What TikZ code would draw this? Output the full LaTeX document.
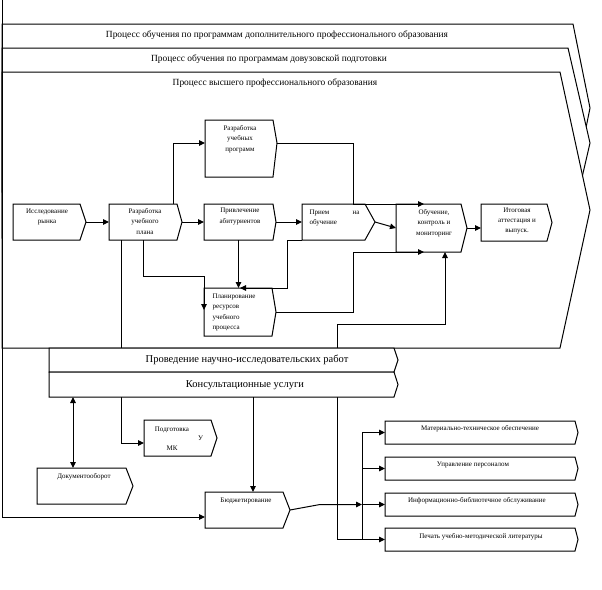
\documentclass[tikz,border=0pt]{standalone}
\usepackage{fontspec}
\setmainfont{Liberation Serif}
\usetikzlibrary{arrows.meta,calc,fit}
\newcommand\procbox[7]{%
  \draw[box] (#2,#3) -- (#4,#3) -- (#6,#7) -- (#4,#5) -- (#2,#5) -- cycle;
  \coordinate (#1-nw) at (#2,#3);
  \coordinate (#1-se) at (#4,#5);
  \coordinate (#1-tip) at (#6,#7);
  \node[fit=(#1-nw)(#1-se), anchorbox] (#1) {};
}
\begin{document}
\begin{tikzpicture}[x=1pt,y=-1pt,
  line width=1pt,
  arr/.style={-{Triangle[length=6pt,width=5.5pt]}},
  arrb/.style={{Triangle[length=6pt,width=5.5pt]}-{Triangle[length=6pt,width=5.5pt]}},
  box/.style={draw,fill=white},
  anchorbox/.style={inner sep=0pt, outer sep=0pt, draw=none},
  small/.style={font=\fontsize{7}{10.3}\selectfont, align=center, inner sep=0pt},
  big/.style={font=\fontsize{9.4}{11}\selectfont, inner sep=0pt},
  barf/.style={font=\fontsize{10.5}{12}\selectfont, inner sep=0pt}]
\useasboundingbox (0,0) rectangle (602,589);
% large process frames
\procbox{pA}{2}{24}{573}{192}{590}{108}
\procbox{pB}{2}{48}{568}{238}{590}{143}
\procbox{pC}{2}{72}{560}{348}{590}{210}
% inner processes
\procbox{rynok}{13}{204}{80}{240}{86}{222}
\procbox{rup}{109}{204}{177}{240}{182}{222}
\procbox{rprog}{205}{120}{273}{177}{277}{143}
\procbox{privl}{204}{204}{273}{240}{276}{222}
\procbox{priem}{302}{204}{365}{240}{375}{222}
\procbox{obuch}{396}{204}{461}{252}{467}{228}
\procbox{itog}{481}{204}{547}{241}{552}{222.5}
\procbox{plan}{204}{288}{272}{336}{276}{312}
% support processes
\procbox{mto}{385}{421}{575}{444}{578}{432.5}
\procbox{pers}{385}{457}{575}{480}{578}{468.5}
\procbox{info}{385}{493}{575}{516}{578}{504.5}
\procbox{print}{385}{528}{575}{551}{578}{539.5}
\coordinate (j1) at (353,204);
\coordinate (j2) at (204,276);
\coordinate (j3) at (353,252);
\coordinate (j4) at (337,324);
\coordinate (top) at (2,0);
\coordinate (bend) at (320,504.5);
\coordinate (tr1) at (362,432.5);
\coordinate (tr4) at (362,539.5);
% connectors
\draw[arr] (rynok-tip) -- (rup.west);
\draw[arr] (rup-tip) -- (privl.west);
\draw[arr] (privl-tip) -- (priem.west);
\draw[arr] (priem-tip) -- (obuch.west);
\draw[arr] (obuch-tip) -- (obuch-tip -| itog.west);
\draw[arr] ([xshift=30pt]rup.north) |- (rprog-tip -| rprog.west);
\draw[arr] (rprog-tip) -| (j1) -- ([xshift=28pt]obuch.north west);
\draw[arr] (privl.south) -- (privl.south |- plan.north);
\draw[arr] (priem.south west) -- ++(-15,0) |- ([xshift=36pt]plan.north west);
\draw[arr] (rup.south) |- (j2) -- ([yshift=-22pt]plan.north west);
\draw[arr] (plan-tip) -| (j3) -- ([xshift=28pt]obuch.south west);
\draw (tr1) -- (tr4);
\foreach \b in {mto,pers,info,print} \draw[arr] (\b.west -| tr1) -- (\b.west);
\draw[arr] (tr4) -| (j4) -| ([xshift=49pt]obuch.south west);
\procbox{umk}{144}{420}{211}{456}{217}{438}
\draw[arr] ([xshift=-22pt]rup.south) |- ([yshift=-5pt]umk.west);
% bars
\procbox{nir}{49}{348}{394}{372}{398}{360}
\procbox{ku}{49}{372}{394}{397}{398}{384.5}
\procbox{docs}{37}{468}{126}{504}{133}{486}
\procbox{budget}{205}{492}{283}{528}{290}{510}
\draw[arr] (top) |- ([yshift=-7pt]budget.west);
\draw[arr] ([xshift=9pt]budget.north |- ku.south) -- ([xshift=9pt]budget.north);
\draw[arrb] ([xshift=-8.5pt]docs.north |- ku.south) -- ([xshift=-8.5pt]docs.north);
\draw[arr] (budget-tip) -- (bend) -- (bend -| tr1);
% texts
\node[big] (tA) at (277,35) {Процесс обучения по программам дополнительного профессионального образования};
\node[big] (tB) at (269,59) {Процесс обучения по программам довузовской подготовки};
\node[big] (tC) at (275,83) {Процесс высшего профессионального образования};
\node[barf] (tN) at (247,360) {Проведение научно-исследовательских работ};
\node[barf] (tK) at (245,385) {Консультационные услуги};
\node[small] (t1) at (47,217) {Исследование\\рынка};
\node[small] (t2) at (145,221.5) {Разработка\\учебного\\плана};
\node[small] (t3) at (240,139) {Разработка\\учебных\\программ};
\node[small] (t4) at (240,216.5) {Привлечение\\абитуриентов};
\node[small, align=left, anchor=west] (t5) at (309,218) {\makebox[50pt][l]{Прием\hfill на}\\обучение};
\node[small] (t6) at (434,223) {Обучение,\\контроль и\\мониторинг};
\node[small] (t7) at (517,221) {Итоговая\\аттестация и\\выпуск.};
\node[small, align=left, anchor=west] (t8) at (212,312.5) {Планирование\\ресурсов\\учебного\\процесса};
\node[small, text width=62pt, font=\fontsize{7}{9.5}\selectfont] (t9) at (172,438.5) {Подготовка\\\hspace*{\fill}У\\МК};
\node[small] (t10) at (84,477) {Документооборот};
\node[small] (t11) at (246,501) {Бюджетирование};
\node[small] (t12) at (480,429) {Материально-техническое обеспечение};
\node[small] (t13) at (473,465) {Управление персоналом};
\node[small] (t14) at (477,501) {Информационно-библиотечное обслуживание};
\node[small] (t15) at (481,537) {Печать учебно-методической литературы};
\end{tikzpicture}
\end{document}
